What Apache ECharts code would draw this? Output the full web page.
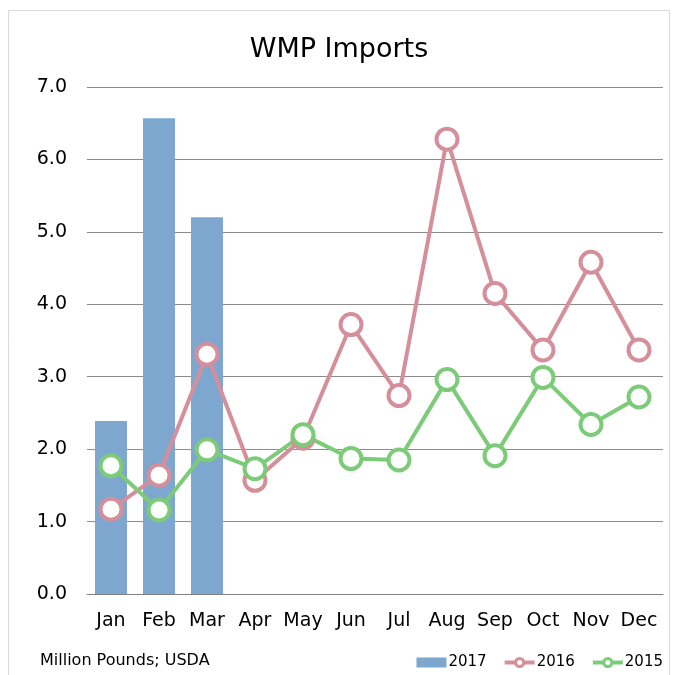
<!DOCTYPE html>
<html>
<head>
<meta charset="utf-8">
<script src="https://cdn.jsdelivr.net/npm/echarts@6/dist/echarts.min.js"></script>
<style>
  html, body { margin: 0; padding: 0; background: #fff; }
  #container { width: 678px; height: 675px; }
</style>
</head>
<body>
<div id="container"></div>
<script>
// 数据
var months = ['Jan', 'Feb', 'Mar', 'Apr', 'May', 'Jun', 'Jul', 'Aug', 'Sep', 'Oct', 'Nov', 'Dec'];
var imports2017 = [2.39, 6.57, 5.20, null, null, null, null, null, null, null, null, null];
var imports2016 = [1.17, 1.64, 3.31, 1.57, 2.15, 3.72, 2.74, 6.28, 4.15, 3.37, 4.58, 3.37];
var imports2015 = [1.77, 1.16, 1.99, 1.73, 2.20, 1.87, 1.85, 2.96, 1.91, 2.99, 2.34, 2.72];

var font = "'DejaVu Sans', sans-serif";
var chart = echarts.init(document.getElementById('container'));

function lineSeries(name, color, data) {
    return {
        name: name,
        type: 'line',
        data: data,
        symbol: 'circle',
        symbolSize: 21,
        lineStyle: { color: color, width: 4 },
        itemStyle: { color: '#fff', borderColor: color, borderWidth: 4 },
        z: 3
    };
}

var option = {
    backgroundColor: '#fff',
    animation: false,
    title: {
        text: 'WMP Imports',
        left: 'center',
        top: 31,
        textStyle: { color: '#000', fontSize: 27, fontWeight: 'normal', fontFamily: font }
    },
    graphic: [
        {
            type: 'rect',
            shape: { x: 8.5, y: 10.5, width: 661, height: 700 },
            style: { fill: 'none', stroke: '#d9d9d9', lineWidth: 1 },
            silent: true
        },
        {
            type: 'text',
            left: 40,
            top: 653,
            style: { text: 'Million Pounds; USDA', fill: '#000', fontSize: 16, fontFamily: font }
        }
    ],
    legend: {
        right: 10,
        top: 650,
        itemGap: 16,
        itemWidth: 30,
        itemHeight: 10,
        lineStyle: { width: 4 },
        itemStyle: { borderWidth: 3 },
        textStyle: { color: '#000', fontSize: 15, fontFamily: font, padding: [0, 0, 0, -3] },
        data: [
            { name: '2017', icon: 'rect' },
            { name: '2016' },
            { name: '2015' }
        ]
    },
    grid: { left: 87, right: 15, top: 87, bottom: 81 },
    xAxis: {
        type: 'category',
        data: months,
        axisLine: { lineStyle: { color: '#808080', width: 1 } },
        axisTick: { show: false },
        axisLabel: { color: '#000', fontSize: 19, fontFamily: font, margin: 18, interval: 0 }
    },
    yAxis: {
        type: 'value',
        min: 0,
        max: 7,
        interval: 1,
        axisLine: { show: false },
        axisTick: { show: false },
        axisLabel: {
            color: '#000', fontSize: 19, fontFamily: font, margin: 20,
            formatter: function (v) { return v.toFixed(1); }
        },
        splitLine: { lineStyle: { color: '#8c8c8c', width: 1 } }
    },
    series: [
        {
            name: '2017',
            type: 'bar',
            data: imports2017,
            barWidth: 32,
            itemStyle: { color: '#7ea7cf' },
            z: 2
        },
        lineSeries('2016', '#d48f9a', imports2016),
        lineSeries('2015', '#7ccb78', imports2015)
    ]
};

chart.setOption(option);
</script>
</body>
</html>
